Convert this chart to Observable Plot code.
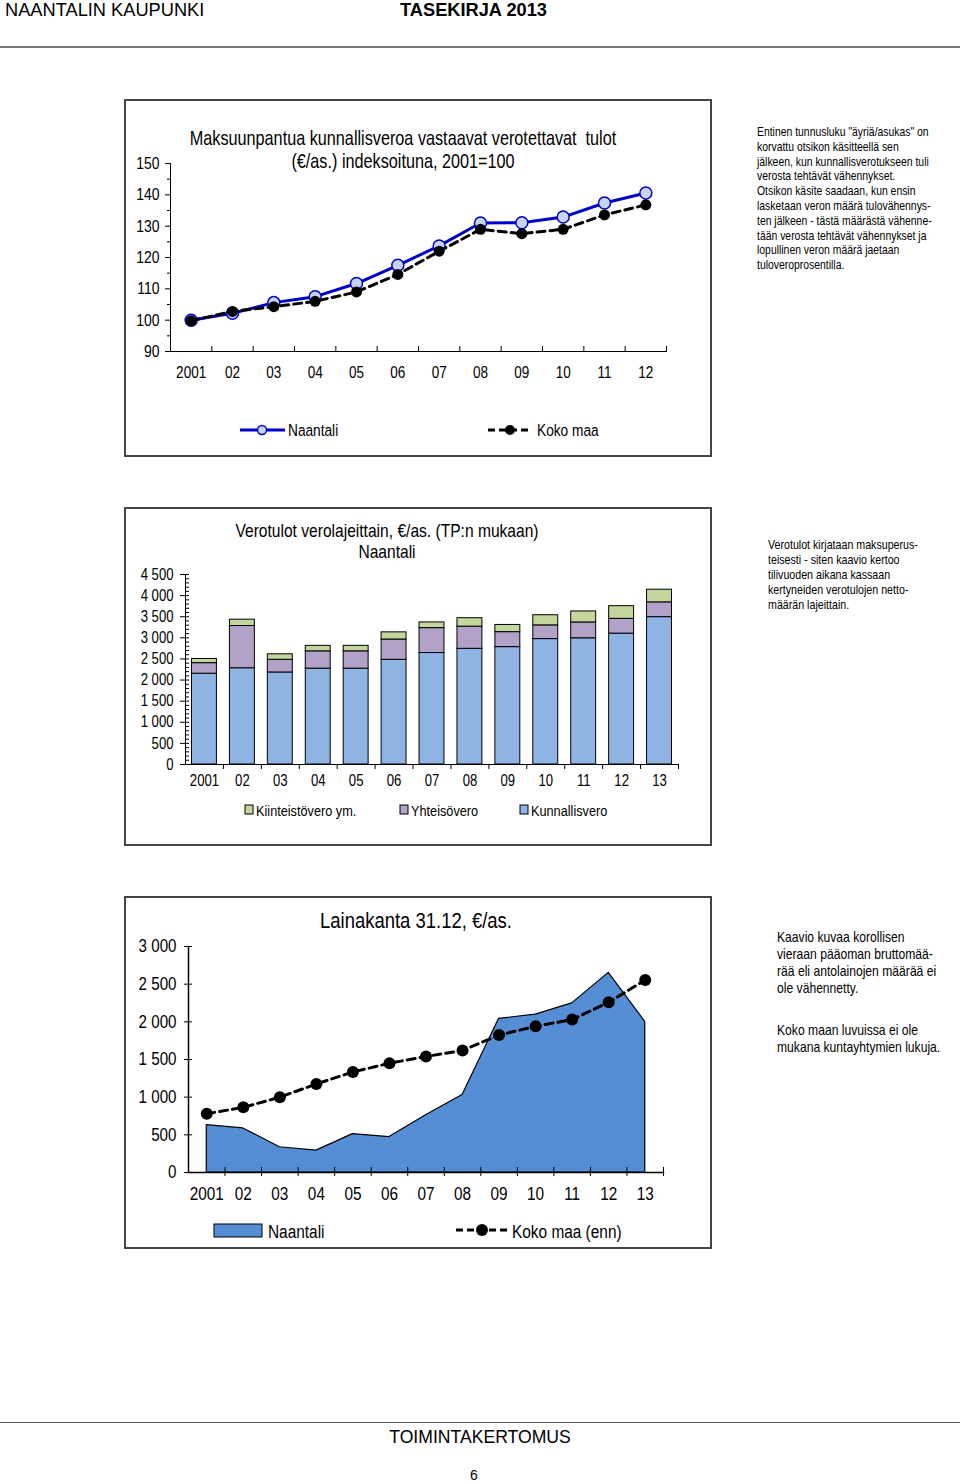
<!DOCTYPE html>
<html>
<head>
<meta charset="utf-8">
<script src="https://cdn.jsdelivr.net/npm/d3@7"></script>
<script src="https://cdn.jsdelivr.net/npm/@observablehq/plot@0.6"></script>
<style>
  html, body { margin: 0; padding: 0; background: #fff; }
  #page { position: relative; width: 960px; height: 1484px; overflow: hidden; font-family: 'Liberation Sans', Arial, sans-serif; color: #000; }
  .abs { position: absolute; }
  .box { position: absolute; border: 2px solid #444; box-sizing: border-box; }
  .t { position: absolute; white-space: nowrap; }
  .nl { transform: scaleX(0.82); transform-origin: 0 0; }
  .nc { transform: scaleX(0.82); transform-origin: 50% 0; text-align: center; }
  .hr { position: absolute; left: 0; width: 960px; height: 2px; background: #777; }
  svg { overflow: visible; }
</style>
</head>
<body>
<div id="page">
  <div class="t" style="left:5px; top:0px; font-size:19px; line-height:20px; transform:scaleX(0.96); transform-origin:0 0;">NAANTALIN KAUPUNKI</div>
  <div class="t" style="left:400px; top:0px; font-size:19px; line-height:20px; font-weight:bold; transform:scaleX(0.96); transform-origin:0 0;">TASEKIRJA 2013</div>
  <div class="hr" style="top:46px;"></div>

  <!-- chart 1 -->
  <div class="box" style="left:124px; top:99px; width:588px; height:358px;"></div>
  <div class="t nc" style="left:3px; width:800px; top:127px; font-size:19.8px; line-height:23px;">Maksuunpantua kunnallisveroa vastaavat verotettavat&nbsp; tulot<br>(€/as.) indeksoituna, 2001=100</div>
  <div id="c1" class="abs" style="left:125px; top:100px;"></div>
  <div id="leg1" class="abs" style="left:200px; top:418px; width:500px; height:26px;"></div>
  <div class="t nl" style="left:757px; top:125px; font-size:12.7px; line-height:14.8px;">Entinen tunnusluku "äyriä/asukas" on<br>korvattu otsikon käsitteellä sen<br>jälkeen, kun kunnallisverotukseen tuli<br>verosta tehtävät vähennykset.<br>Otsikon käsite saadaan, kun ensin<br>lasketaan veron määrä tulovähennys-<br>ten jälkeen - tästä määrästä vähenne-<br>tään verosta tehtävät vähennykset ja<br>lopullinen veron määrä jaetaan<br>tuloveroprosentilla.</div>

  <!-- chart 2 -->
  <div class="box" style="left:124px; top:507px; width:588px; height:339px;"></div>
  <div class="t nc" style="left:-13px; width:800px; top:520px; font-size:19px; line-height:21px;">Verotulot verolajeittain, €/as. (TP:n mukaan)<br>Naantali</div>
  <div id="c2" class="abs" style="left:125px; top:508px;"></div>
  <div id="leg2" class="abs" style="left:200px; top:800px; width:500px; height:22px;"></div>
  <div class="t nl" style="left:768px; top:537px; font-size:13px; line-height:15px;">Verotulot kirjataan maksuperus-<br>teisesti - siten kaavio kertoo<br>tilivuoden aikana kassaan<br>kertyneiden verotulojen netto-<br>määrän lajeittain.</div>

  <!-- chart 3 -->
  <div class="box" style="left:124px; top:896px; width:588px; height:353px;"></div>
  <div class="t nc" style="left:16px; width:800px; top:908px; font-size:22.5px; line-height:26px;">Lainakanta 31.12, €/as.</div>
  <div id="c3" class="abs" style="left:125px; top:897px;"></div>
  <div id="leg3" class="abs" style="left:200px; top:1217px; width:500px; height:28px;"></div>
  <div class="t nl" style="left:777px; top:929px; font-size:14.8px; line-height:17px;">Kaavio kuvaa korollisen<br>vieraan pääoman bruttomää-<br>rää eli antolainojen määrää ei<br>ole vähennetty.</div>
  <div class="t nl" style="left:777px; top:1022px; font-size:14.8px; line-height:17px;">Koko maan luvuissa ei ole<br>mukana kuntayhtymien lukuja.</div>

  <div class="hr" style="top:1422px; height:1px; background:#555;"></div>
  <div class="t" style="left:0; width:960px; text-align:center; top:1426px; font-size:17.6px; line-height:22px;">TOIMINTAKERTOMUS</div>
  <div class="t" style="left:0; width:948px; text-align:center; top:1466px; font-size:14px; line-height:18px;">6</div>
</div>

<script>
// ---------- data ----------
const years1 = ["2001","02","03","04","05","06","07","08","09","10","11","12"];
const naantaliIndex = [100, 102.2, 105.6, 107.5, 111.7, 117.5, 123.7, 131.0, 131.1, 132.9, 137.4, 140.6];
const kokoMaaIndex  = [99.8, 102.8, 104.3, 106.0, 109.0, 114.6, 122.0, 129.0, 127.6, 129.0, 133.6, 136.8];

const years2 = ["2001","02","03","04","05","06","07","08","09","10","11","12","13"];
const taxSeries = ["Kunnallisvero", "Yhteisövero", "Kiinteistövero ym."];
const kunnallisvero  = [2150, 2280, 2180, 2270, 2270, 2480, 2640, 2740, 2780, 2970, 2990, 3100, 3490];
const yhteisovero    = [250, 1000, 300, 410, 410, 480, 590, 525, 355, 325, 375, 350, 350];
const kiinteistovero = [100, 150, 130, 130, 130, 170, 135, 200, 170, 240, 260, 300, 300];
const taxColors = ["#8fb4e3", "#b3a2c7", "#c3d69b"];

const years3 = ["2001","02","03","04","05","06","07","08","09","10","11","12","13"];
const lainaNaantali = [630, 585, 335, 290, 510, 470, 760, 1030, 2040, 2095, 2245, 2650, 2000];
const lainaKokoMaa  = [780, 865, 1000, 1175, 1335, 1450, 1540, 1620, 1825, 1940, 2030, 2260, 2555];

const FONT = "'Liberation Sans', Arial, sans-serif";
const NARROW = 0.82;
const spaceFmt = d => d3.format(",")(d).replace(/,/g, "\u00a0");

// make SVG text look like Arial Narrow: compress each text to 82 % of its natural length
function narrowText(svg, k = NARROW) {
  svg.querySelectorAll("text").forEach(t => {
    const L = t.getComputedTextLength();
    if (L > 0) {
      t.setAttribute("textLength", (L * k).toFixed(2));
      t.setAttribute("lengthAdjust", "spacingAndGlyphs");
    }
  });
  return svg;
}

// ---------- chart 1 ----------
const d1n = years1.map((y, i) => ({i, year: y, v: naantaliIndex[i]}));
const d1k = years1.map((y, i) => ({i, year: y, v: kokoMaaIndex[i]}));
const c1 = Plot.plot({
  width: 586, height: 300,
  marginTop: 63, marginBottom: 49, marginLeft: 45, marginRight: 45,
  style: {fontFamily: FONT, fontSize: "17px", color: "#000", background: "transparent", overflow: "visible"},
  x: {domain: [0, years1.length], axis: null},
  y: {domain: [90, 150], axis: null},
  marks: [
    Plot.axisY({ticks: d3.range(90, 151, 10), tickSize: 5, tickPadding: 6, fontSize: 17, label: null}),
    Plot.axisY({ticks: d3.range(95, 150, 10), tickSize: 3, tickFormat: () => "", label: null}),
    Plot.axisX({ticks: d3.range(years1.length).map(i => i + 0.5), tickFormat: v => years1[Math.floor(v)], tickSize: 0, tickPadding: 15, fontSize: 16.5, label: null}),
    Plot.axisX({ticks: d3.range(1, years1.length + 1), tickSize: -5, tickFormat: () => "", label: null}),
    Plot.frame({anchor: "left", stroke: "#000"}),
    Plot.frame({anchor: "bottom", stroke: "#000"}),
    Plot.line(d1n, {x: d => d.i + 0.5, y: "v", stroke: "#0000cc", strokeWidth: 3}),
    Plot.dot(d1n, {x: d => d.i + 0.5, y: "v", r: 6, fill: "#c6d6f2", stroke: "#0000cc", strokeWidth: 1.5}),
    Plot.line(d1k, {x: d => d.i + 0.5, y: "v", stroke: "#000", strokeWidth: 3, strokeDasharray: "8,5"}),
    Plot.dot(d1k, {x: d => d.i + 0.5, y: "v", r: 5.5, fill: "#000"})
  ]
});
document.getElementById("c1").appendChild(c1);
narrowText(c1);

// legend 1
const leg1 = document.getElementById("leg1");
leg1.innerHTML = `
<svg width="500" height="26" style="position:absolute;left:0;top:0" font-family="Liberation Sans, Arial, sans-serif">
  <line x1="40" x2="85" y1="12" y2="12" stroke="#0000cc" stroke-width="3"/>
  <circle cx="62" cy="12" r="4.5" fill="#c6d6f2" stroke="#0000cc" stroke-width="1.5"/>
  <text x="88" y="18" font-size="16.7">Naantali</text>
  <line x1="288" x2="332" y1="12" y2="12" stroke="#000" stroke-width="3" stroke-dasharray="7,4"/>
  <circle cx="310" cy="12" r="5" fill="#000"/>
  <text x="337" y="18" font-size="16.7">Koko maa</text>
</svg>`;
narrowText(leg1.querySelector("svg"));

// ---------- chart 2 ----------
const taxValues = [kunnallisvero, yhteisovero, kiinteistovero];
const d2 = [];
taxSeries.forEach((s, si) => years2.forEach((y, i) => d2.push({i, year: y, series: s, v: taxValues[si][i]})));
const c2 = Plot.plot({
  width: 586, height: 300,
  marginTop: 66, marginBottom: 44, marginLeft: 60, marginRight: 33,
  style: {fontFamily: FONT, fontSize: "16px", color: "#000", background: "transparent", overflow: "visible"},
  x: {domain: [0, years2.length], axis: null},
  y: {domain: [0, 4500], axis: null},
  color: {domain: taxSeries, range: taxColors},
  marks: [
    Plot.axisY({ticks: d3.range(0, 4501, 500), tickSize: 5, tickPadding: 7, tickFormat: spaceFmt, fontSize: 16, label: null}),
    Plot.axisY({ticks: d3.range(0, 4501, 100), tickSize: -4, tickFormat: () => "", label: null}),
    Plot.rectY(d2, {x: "i", interval: 1, y: "v", fill: "series", stroke: "#000", strokeWidth: 1, insetLeft: 6.5, insetRight: 6.5}),
    Plot.axisX({ticks: d3.range(years2.length).map(i => i + 0.5), tickFormat: v => years2[Math.floor(v)], tickSize: 0, tickPadding: 10, fontSize: 16, label: null}),
    Plot.axisX({ticks: d3.range(1, years2.length + 1), tickSize: 5, tickFormat: () => "", label: null}),
    Plot.frame({anchor: "left", stroke: "#000"}),
    Plot.frame({anchor: "bottom", stroke: "#000"})
  ]
});
document.getElementById("c2").appendChild(c2);
narrowText(c2);

// legend 2
const legItems2 = [["Kiinteistövero ym.", taxColors[2], 45], ["Yhteisövero", taxColors[1], 200], ["Kunnallisvero", taxColors[0], 320]];
const leg2 = document.getElementById("leg2");
leg2.innerHTML = `<svg width="500" height="22" style="position:absolute;left:0;top:0" font-family="Liberation Sans, Arial, sans-serif">` +
  legItems2.map(([n, c, x]) => `<rect x="${x}" y="5" width="8" height="9" fill="${c}" stroke="#000" stroke-width="1"/><text x="${x + 11}" y="16" font-size="15.5">${n}</text>`).join("") + `</svg>`;
narrowText(leg2.querySelector("svg"));

// ---------- chart 3 ----------
const d3n = years3.map((y, i) => ({i, year: y, v: lainaNaantali[i]}));
const d3k = years3.map((y, i) => ({i, year: y, v: lainaKokoMaa[i]}));
const c3 = Plot.plot({
  width: 586, height: 315,
  marginTop: 49, marginBottom: 40, marginLeft: 63, marginRight: 48,
  style: {fontFamily: FONT, fontSize: "18.5px", color: "#000", background: "transparent", overflow: "visible"},
  x: {domain: [0, years3.length], axis: null},
  y: {domain: [0, 3000], axis: null},
  marks: [
    Plot.areaY(d3n, {x: d => d.i + 0.5, y: "v", fill: "#558ed5", stroke: "#000", strokeWidth: 1.2}),
    Plot.axisY({ticks: d3.range(0, 3001, 500), tickSize: 4, tickPadding: 8, tickFormat: spaceFmt, fontSize: 18.5, label: null}),
    Plot.axisY({ticks: d3.range(0, 3001, 500), tickSize: -4, tickFormat: () => "", label: null}),
    Plot.axisX({ticks: d3.range(years3.length).map(i => i + 0.5), tickFormat: v => years3[Math.floor(v)], tickSize: 0, tickPadding: 14, fontSize: 18.7, label: null}),
    Plot.axisX({ticks: d3.range(1, years3.length + 1), tickSize: -5, tickFormat: () => "", label: null}),
    Plot.axisX({ticks: d3.range(1, years3.length + 1), tickSize: 4, tickFormat: () => "", label: null}),
    Plot.frame({anchor: "left", stroke: "#000", strokeWidth: 1.5}),
    Plot.frame({anchor: "bottom", stroke: "#000", strokeWidth: 1.5}),
    Plot.line(d3k, {x: d => d.i + 0.5, y: "v", stroke: "#000", strokeWidth: 3, strokeDasharray: "8,5"}),
    Plot.dot(d3k, {x: d => d.i + 0.5, y: "v", r: 6, fill: "#000"})
  ]
});
document.getElementById("c3").appendChild(c3);
narrowText(c3);

// legend 3
const leg3 = document.getElementById("leg3");
leg3.innerHTML = `
<svg width="500" height="28" style="position:absolute;left:0;top:0" font-family="Liberation Sans, Arial, sans-serif">
  <rect x="14" y="7" width="48" height="13" fill="#558ed5" stroke="#000" stroke-width="1"/>
  <text x="68" y="21" font-size="18.8">Naantali</text>
  <line x1="256" x2="307" y1="13" y2="13" stroke="#000" stroke-width="3" stroke-dasharray="7,4"/>
  <circle cx="282" cy="13" r="6" fill="#000"/>
  <text x="312" y="21" font-size="18.8">Koko maa (enn)</text>
</svg>`;
narrowText(leg3.querySelector("svg"));
</script>
</body>
</html>
